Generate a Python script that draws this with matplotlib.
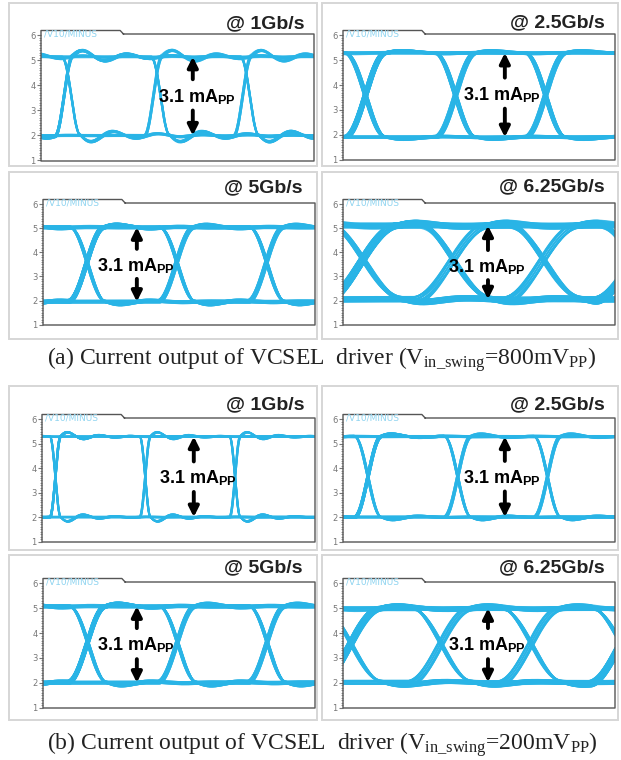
import numpy as np
import matplotlib
matplotlib.use("Agg")
import matplotlib.pyplot as plt
from matplotlib.patches import Rectangle
from matplotlib.lines import Line2D
from matplotlib.ticker import MultipleLocator, FixedLocator

plt.rcParams["mathtext.fontset"] = "custom"
plt.rcParams["mathtext.rm"] = "Liberation Serif"
plt.rcParams["mathtext.it"] = "Liberation Serif:italic"
plt.rcParams["mathtext.bf"] = "Liberation Sans:bold"

# ---------------- data ----------------
rates = ["@ 1Gb/s", "@ 2.5Gb/s", "@ 5Gb/s", "@ 6.25Gb/s",
         "@ 1Gb/s", "@ 2.5Gb/s", "@ 5Gb/s", "@ 6.25Gb/s"]
high_level = [5.15, 5.30, 5.05, 5.12, 5.30, 5.30, 5.08, 5.00]
low_level = [2.00, 1.90, 1.95, 2.05, 2.00, 2.00, 2.00, 2.02]
first_cross = [0.085, 0.086, 0.160, 0.067, 0.049, 0.092, 0.162, 0.025]   # fraction of frame
ui_width = [0.327, 0.331, 0.330, 0.331, 0.329, 0.330, 0.330, 0.331]      # fraction of frame
edge_time = [0.20, 0.45, 0.40, 0.85, 0.12, 0.30, 0.42, 0.70]            # UI
fall_delay = [0.08, 0.00, 0.02, 0.05, 0.00, 0.00, 0.02, 0.03]           # UI
ring_amp = [0.10, 0.04, 0.05, 0.06, 0.07, 0.05, 0.05, 0.06]             # fraction of swing
ring_period = [0.50, 0.90, 0.70, 1.00, 0.35, 0.60, 0.70, 1.00]          # UI
ring_decay = [0.60, 0.40, 0.40, 0.50, 0.30, 0.30, 0.40, 0.50]           # UI
time_jitter = [[0.0, 0.006, -0.005],
               [0.0, 0.010, -0.010, 0.030],
               [0.0, 0.012, -0.010, 0.020],
               [0.0, 0.020, -0.020, 0.035, -0.030, 0.010, -0.010],
               [0.0, 0.004, -0.004],
               [0.0, 0.010, -0.008],
               [0.0, 0.012, -0.010, 0.020],
               [0.0, 0.015, -0.015, 0.025, -0.025]]
level_jitter = [[0.0, 0.03, -0.03],
                [0.0, 0.04, -0.04, 0.02],
                [0.0, 0.05, -0.05, 0.03],
                [0.0, 0.08, -0.07, 0.05, -0.04, 0.10, -0.10],
                [0.0, 0.02, -0.02],
                [0.0, 0.03, -0.03],
                [0.0, 0.05, -0.05, 0.03],
                [0.0, 0.06, -0.06, 0.04, -0.08]]
label_x = [0.43, 0.44, 0.20, 0.386, 0.43, 0.44, 0.20, 0.386]
label_y = [3.55, 3.60, 3.45, 3.40, 3.58, 3.60, 3.50, 3.50]
arrow_x = [0.556, 0.595, 0.345, 0.533, 0.556, 0.595, 0.345, 0.533]
bits = [0, 1, 0, 1, 1, 0, 0, 1, 1, 1, 0, 1, 0, 0, 0, 1, 0, 1, 1, 0, 1, 1, 1, 1,
        0, 0, 1, 0, 0, 1, 1, 0, 1, 0, 1, 0, 0, 0, 0, 1, 1, 0, 0, 1, 0, 1, 1, 1]
yticks = [1, 2, 3, 4, 5, 6]
label_text = r"3.1 mA$_{\mathbf{PP}}$"
tab_text = "/V10/MINUS"
captions = [r"(a) Current output of VCSEL  driver (V$_{\mathrm{in\_swing}}$=800mV$_{\mathrm{PP}}$)",
            r"(b) Current output of VCSEL  driver (V$_{\mathrm{in\_swing}}$=200mV$_{\mathrm{PP}}$)"]

# ---------------- layout (pixels) ----------------
W_PX, H_PX = 621, 760
boxes = [(9, 3, 317, 166), (322, 3, 618, 166),
         (9, 172, 317, 339), (322, 172, 618, 339),
         (9, 386, 317, 550), (322, 386, 618, 550),
         (9, 555, 317, 720), (322, 555, 618, 720)]
frames = [(41, 34, 314, 161), (343, 34, 615, 160),
          (43, 203, 315, 325), (343, 203, 615, 325),
          (42, 418, 315, 542), (343, 418, 615, 542),
          (43, 582, 315, 708), (343, 582, 615, 708)]
title_pos = [(305, 24), (605, 23), (303, 188), (605, 187),
             (305, 405), (605, 405), (303, 568), (605, 568)]
caption_pos = [(322, 360), (322, 745)]

TRACE = "#29b4e6"

fig = plt.figure(figsize=(W_PX / 100, H_PX / 100), dpi=100)
fig.patch.set_facecolor("white")


def fx(x):
    return x / W_PX


def fy(y):
    return 1 - y / H_PX


def step_response(t, edge, amp, period, decay):
    u = np.clip(t / edge + 0.5, 0, 1)
    s = 0.5 - 0.5 * np.cos(np.pi * u)
    te = np.clip(t - edge / 2, 0, None)
    ring = np.where(t - edge / 2 > 0,
                    amp * np.exp(-te / decay) * np.sin(2 * np.pi * te / period), 0.0)
    return s + ring


def waveform(t_abs, i):
    y = np.full_like(t_abs, float(bits[0]))
    for k in range(1, len(bits)):
        d = bits[k] - bits[k - 1]
        if d == 0:
            continue
        delay = fall_delay[i] if d < 0 else 0.0
        y += d * step_response(t_abs - k - delay, edge_time[i], ring_amp[i],
                               ring_period[i], ring_decay[i])
    return low_level[i] + (high_level[i] - low_level[i]) * y


for i in range(8):
    bx0, by0, bx1, by1 = boxes[i]
    fig.patches.append(Rectangle((fx(bx0), fy(by1)), fx(bx1 - bx0), (by1 - by0) / H_PX,
                                 transform=fig.transFigure, facecolor="white",
                                 edgecolor="#d6d6d6", lw=1.4, zorder=-5))
    x0, y0, x1, y1 = frames[i]
    ax = fig.add_axes([fx(x0), fy(y1), fx(x1 - x0), (y1 - y0) / H_PX])
    ax.set_zorder(2)
    ax.patch.set_alpha(0)
    ax.set_xlim(0, 1)
    ax.set_ylim(0.98, 6.06)
    for s in ax.spines.values():
        s.set_visible(False)
    ax.set_xticks([])
    ax.yaxis.set_major_locator(FixedLocator(yticks))
    ax.yaxis.set_minor_locator(MultipleLocator(0.1))
    ax.tick_params(axis="y", which="major", labelsize=6, colors="#777777",
                   length=3, width=0.8, pad=1)
    ax.tick_params(axis="y", which="minor", length=1.5, width=0.6, colors="#888888")
    ax.set_yticklabels([str(v) for v in yticks])

    # traces
    W = 1.0 / ui_width[i]
    xs = np.linspace(0, 1, 700)
    j = 0
    while True:
        start = 3 * j + 2 - first_cross[i] * W
        if start + W > len(bits) - 2:
            break
        for dt, dy in zip(time_jitter[i], level_jitter[i]):
            t_abs = start + xs * W + dt
            ax.plot(xs, waveform(t_abs, i) + dy, color=TRACE, lw=1.15, alpha=0.85)
        j += 1

    # frame with tab
    tab_r = 0.29
    h_ax = y1 - y0
    tab_h = 3.5 / h_ax
    fr = Line2D([tab_r + 0.012, 1, 1, 0, 0, tab_r, tab_r + 0.012],
                [1, 1, 0, 0, 1 + tab_h, 1 + tab_h, 1],
                transform=ax.transAxes, color="#555555", lw=1.0, clip_on=False)
    ax.add_line(fr)
    ax.text(0.012, 1.0, tab_text, transform=ax.transAxes, fontsize=6.5,
            color="#8fd4f0", va="center", ha="left", family="DejaVu Sans")

    # annotation
    ax.text(label_x[i], label_y[i], label_text, fontsize=13, fontweight="bold",
            family="Liberation Sans", ha="left", va="center", color="black", zorder=5)
    ax.annotate("", xy=(arrow_x[i], high_level[i]), xytext=(arrow_x[i], label_y[i] + 0.7),
                arrowprops=dict(arrowstyle="-|>", lw=2.8, color="black", mutation_scale=15,
                                shrinkA=0, shrinkB=0), zorder=5)
    ax.annotate("", xy=(arrow_x[i], low_level[i]), xytext=(arrow_x[i], label_y[i] - 0.55),
                arrowprops=dict(arrowstyle="-|>", lw=2.8, color="black", mutation_scale=15,
                                shrinkA=0, shrinkB=0), zorder=5)

    tx, ty = title_pos[i]
    fig.text(fx(tx), fy(ty), rates[i], fontsize=14, fontweight="bold",
             family="Liberation Sans", ha="right", va="center", color="#222222")

for c, (cx, cy) in zip(captions, caption_pos):
    fig.text(fx(cx), fy(cy), c, fontsize=17, family="Liberation Serif",
             ha="center", va="center", color="#222222")

fig.savefig("out.png", dpi=100, facecolor="white")
